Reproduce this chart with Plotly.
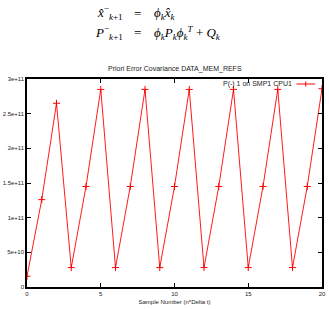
import plotly.graph_objects as go

sample_n = list(range(21))
p_minus = [1.55e10, 1.26e11, 2.65e11,
           2.8e10, 1.45e11, 2.85e11,
           2.8e10, 1.45e11, 2.85e11,
           2.8e10, 1.45e11, 2.85e11,
           2.8e10, 1.45e11, 2.85e11,
           2.8e10, 1.45e11, 2.85e11,
           2.8e10, 1.45e11, 2.86e11]
series_name = "P(-) 1 on SMP1 CPU1"
y_tickvals = [0, 5e10, 1e11, 1.5e11, 2e11, 2.5e11, 3e11]
y_ticktext = ["0", "5e+10", "1e+11", "1.5e+11", "2e+11", "2.5e+11", "3e+11"]
x_tickvals = [0, 5, 10, 15, 20]

W, H = 329, 309
L, R, T, B = 26, 3, 79, 22
pw, ph = W - L - R, H - T - B

def px(x):
    return (x - L) / pw

def py(y):
    return (H - B - y) / ph

RED = "#ff0000"
fig = go.Figure()
fig.add_trace(go.Scatter(
    x=sample_n, y=p_minus, mode="lines+markers", name=series_name,
    line=dict(color=RED, width=0.9),
    marker=dict(symbol="cross-thin", size=5, line=dict(color=RED, width=1)),
    showlegend=False,
))

axis_common = dict(showline=True, linecolor="black", linewidth=1.5, mirror="ticks",
                   ticks="inside", ticklen=4, tickcolor="black", tickwidth=1, showgrid=False,
                   zeroline=False, tickfont=dict(family="Liberation Sans", size=6, color="#222"))
fig.update_xaxes(range=[0, 20], tickvals=x_tickvals, **axis_common,
                 title=dict(text="Sample Number (n*Delta t)", font=dict(family="Liberation Sans", size=6, color="#222"), standoff=4))
fig.update_yaxes(range=[0, 3e11], tickvals=y_tickvals, ticktext=y_ticktext, **axis_common)

anns = []
anns.append(dict(text="Priori Error Covariance DATA_MEM_REFS", x=px(176), y=py(69), xref="paper", yref="paper",
                 showarrow=False, xanchor="center", yanchor="middle",
                 font=dict(family="Liberation Sans", size=7, color="#222")))
anns.append(dict(text=series_name, x=px(298), y=py(84), xref="paper", yref="paper",
                 showarrow=False, xanchor="right", yanchor="middle",
                 font=dict(family="Liberation Sans", size=7, color="#222")))
mf = dict(family="Liberation Serif", size=13, color="black")
anns += [
    dict(text="<i>x̂</i><sup>−</sup><sub><i>k</i>+1</sub>", x=px(126), y=py(13), xanchor="right"),
    dict(text="=", x=px(138), y=py(13), xanchor="center"),
    dict(text="<i>ϕ<sub>k</sub>x̂<sub>k</sub></i>", x=px(153), y=py(13), xanchor="left"),
    dict(text="<i>P</i><sup>−</sup><sub><i>k</i>+1</sub>", x=px(126), y=py(33), xanchor="right"),
    dict(text="=", x=px(138), y=py(33), xanchor="center"),
    dict(text="<i>ϕ<sub>k</sub>P<sub>k</sub>ϕ<sub>k</sub><sup>T</sup></i> + <i>Q<sub>k</sub></i>", x=px(153), y=py(33), xanchor="left"),
]
for a in anns[2:]:
    a.update(xref="paper", yref="paper", showarrow=False, yanchor="middle", font=mf)

fig.update_layout(
    width=W, height=H, margin=dict(l=L, r=R, t=T, b=B),
    paper_bgcolor="white", plot_bgcolor="white",
    annotations=anns,
    shapes=[dict(type="line", xref="paper", yref="paper", x0=px(300), x1=px(319), y0=py(84), y1=py(84),
                 line=dict(color=RED, width=1)),
            dict(type="line", xref="paper", yref="paper", x0=px(309.5), x1=px(309.5), y0=py(81.5), y1=py(86.5),
                 line=dict(color=RED, width=1))],
)
fig.write_html("out.html")
